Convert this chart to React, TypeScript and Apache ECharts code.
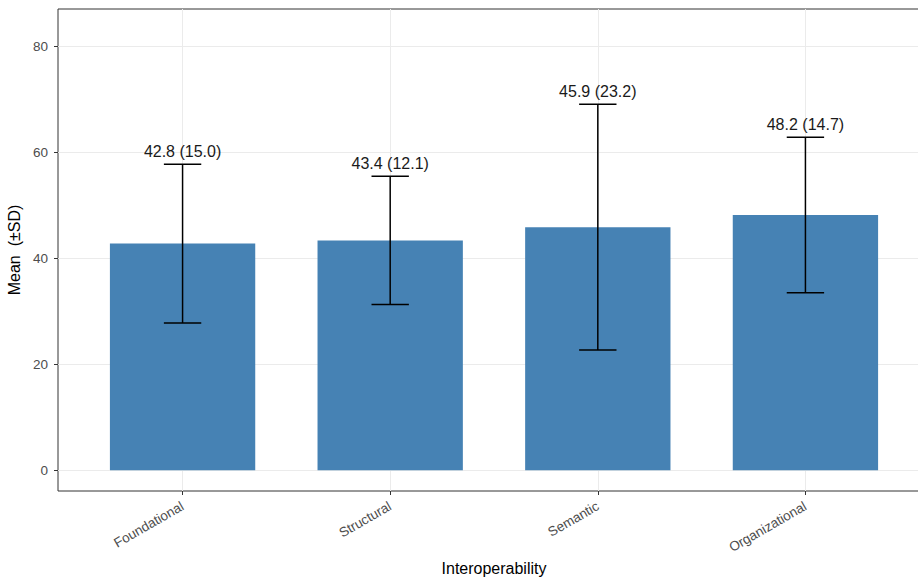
import React, { useEffect, useRef } from "react";
import * as echarts from "echarts";

const categories = ["Foundational", "Structural", "Semantic", "Organizational"];
const means = [42.8, 43.4, 45.9, 48.2];
const sds = [15.0, 12.1, 23.2, 14.7];
const yTicks = [0, 20, 40, 60, 80];

const FONT = "'Liberation Sans', Arial, Helvetica, sans-serif";

export default function App() {
  const ref = useRef<HTMLDivElement>(null);
  useEffect(() => {
    if (!ref.current) return;
    const chart = echarts.init(ref.current, null, { renderer: "svg" });
    const data = categories.map((c, i) => [i, means[i], sds[i]]);
    const option: any = {
      animation: false,
      backgroundColor: "#ffffff",
      grid: {
        left: 58,
        top: 9,
        width: 872,
        height: 482,
        outerBoundsMode: "none",
        containLabel: false,
        show: true,
        borderColor: "#333333",
        borderWidth: 1,
        backgroundColor: "transparent",
      },
      xAxis: {
        type: "value",
        min: -0.6,
        max: 3.6,
        position: "bottom",
        name: "Interoperability",
        nameLocation: "middle",
        nameGap: 69,
        nameTextStyle: { color: "#000000", fontSize: 16, fontFamily: FONT },
        axisLine: { show: false, onZero: false },
        axisTick: {
          show: true,
          length: 4,
          lineStyle: { color: "#333333", width: 1 },
          customValues: [0, 1, 2, 3],
        },
        axisLabel: {
          customValues: [0, 1, 2, 3],
          rotate: 30,
          margin: 14,
          color: "#4d4d4d",
          fontSize: 13.5,
          fontFamily: FONT,
          formatter: (v: number) => categories[Math.round(v)] ?? "",
        },
        splitLine: { show: true, lineStyle: { color: "#ebebeb", width: 1 } },
      },
      yAxis: {
        type: "value",
        min: -3.92,
        max: 87.1,
        position: "left",
        name: "Mean  (±SD)",
        nameLocation: "middle",
        nameGap: 27,
        nameTextStyle: { color: "#000000", fontSize: 16, fontFamily: FONT },
        axisLine: { show: false, onZero: false },
        axisTick: {
          show: true,
          length: 4,
          lineStyle: { color: "#333333", width: 1 },
          customValues: yTicks,
        },
        axisLabel: {
          customValues: yTicks,
          margin: 10,
          color: "#4d4d4d",
          fontSize: 13.5,
          fontFamily: FONT,
        },
        splitLine: { show: true, lineStyle: { color: "#ebebeb", width: 1 } },
      },
      series: [
        {
          type: "custom",
          data,
          clip: false,
          renderItem: (params: any, api: any) => {
            const x = api.value(0);
            const m = api.value(1);
            const sd = api.value(2);
            const bw = 0.35;
            const cw = 0.09;
            const tl = api.coord([x - bw, m]);
            const br = api.coord([x + bw, 0]);
            const top = api.coord([x, m + sd]);
            const bot = api.coord([x, m - sd]);
            const capL = api.coord([x - cw, m + sd]);
            const capR = api.coord([x + cw, m + sd]);
            const capL2 = api.coord([x - cw, m - sd]);
            const capR2 = api.coord([x + cw, m - sd]);
            const lineStyle = { stroke: "#000000", lineWidth: 1.5 };
            return {
              type: "group",
              children: [
                {
                  type: "rect",
                  shape: { x: tl[0], y: tl[1], width: br[0] - tl[0], height: br[1] - tl[1] },
                  style: { fill: "#4682B4" },
                },
                { type: "line", shape: { x1: top[0], y1: top[1], x2: bot[0], y2: bot[1] }, style: lineStyle },
                { type: "line", shape: { x1: capL[0], y1: capL[1], x2: capR[0], y2: capR[1] }, style: lineStyle },
                { type: "line", shape: { x1: capL2[0], y1: capL2[1], x2: capR2[0], y2: capR2[1] }, style: lineStyle },
                {
                  type: "text",
                  style: {
                    text: `${m.toFixed(1)} (${sd.toFixed(1)})`,
                    x: top[0],
                    y: top[1] - 5,
                    align: "center",
                    verticalAlign: "bottom",
                    fill: "#1a1a1a",
                    fontSize: 16,
                    fontFamily: FONT,
                  },
                },
              ],
            };
          },
        },
      ],
    };
    chart.setOption(option);
    return () => chart.dispose();
  }, []);
  return (
    <div
      ref={ref}
      style={{ position: "fixed", left: 0, top: 0, width: 918, height: 579, background: "#fff" }}
    />
  );
}
